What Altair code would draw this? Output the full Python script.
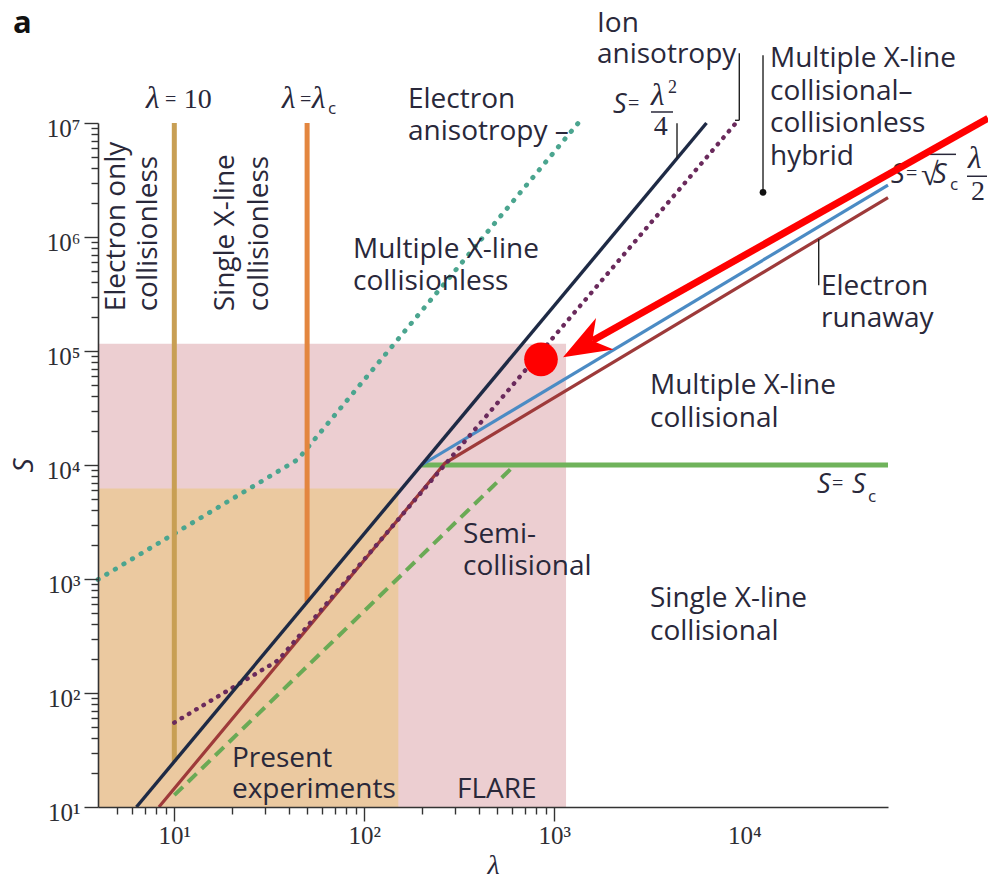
import altair as alt
import pandas as pd

# ---------------------------------------------------------------- ranges
LAM_DOMAIN = [3.966, 57060]
S_DOMAIN = [10, 1.0e7]

# ------------------------------------------------ regime boundaries (λ, S)
lam_quarter = [6.32, 6325]            # S = λ²/4
S_quarter = [10, 1.0e7]
lam_hybrid = [200, 57060]             # S = √Sc λ/2
S_hybrid = [1.0e4, 2.85e6]
lam_sc = [200, 57060]                 # S = Sc
S_sc = [1.0e4, 1.0e4]
lam_semi = [10, 620]                  # semi-collisional boundary
S_semi = [12.7, 1.0e4]
lam_runaway = [8.3, 266, 57060]       # electron runaway
S_runaway = [10, 1.04e4, 2.22e6]
lam_ion = [10, 35.3, 9120]            # ion anisotropy
S_ion = [55, 194, 1.02e7]
lam_elec = [3.966, 44.6, 1337]        # electron anisotropy
S_elec = [990, 1.115e4, 1.0e7]
lam_ten = [10, 10]                    # λ = 10
S_ten = [25, 1.0e7]
lam_lc = [50, 50]                     # λ = λc
S_lc = [625, 1.0e7]

# shaded parameter ranges
box_names = ["FLARE", "Present experiments"]
box_lam_hi = [1153, 151]
box_S_hi = [1.16e5, 6210]
box_colors = ["#ecced1", "#ebc9a0"]

# axis ticks
x_minor = [5, 6, 7, 8, 9, 20, 30, 40, 50, 60, 70, 80, 90,
           200, 300, 400, 500, 600, 700, 800, 900]
x_major = [10, 100, 1000]
x_label_only = [10000]
y_major = [10, 100, 1000, 10000, 100000, 1000000, 10000000]
y_ticks = [m * d for d in y_major[:-1] for m in range(1, 10)] + [y_major[-1]]

# region labels (left aligned, baseline)
region_text = ["Electron", "anisotropy –", "Ion", "anisotropy",
               "Multiple X-line", "collisional–", "collisionless", "hybrid",
               "Electron", "runaway",
               "Multiple X-line", "collisional",
               "Single X-line", "collisional",
               "Multiple X-line", "collisionless",
               "Semi-", "collisional",
               "Present", "experiments", "FLARE"]
region_lam = [169.8, 169.8, 1677, 1677,
              13655, 13655, 13655, 13655,
              25330, 25330,
              3189, 3189,
              3189, 3189,
              87.2, 87.2,
              330.8, 330.8,
              20.1, 20.1, 307.5]
region_S = [1.345e7, 7.05e6, 6.25e7, 3.34e7,
            3.08e7, 1.58e7, 8.28e6, 4.26e6,
            3.08e5, 1.615e5,
            4.17e4, 2.14e4,
            565, 290,
            6.50e5, 3.40e5,
            2056, 1078,
            22.3, 11.9, 11.9]

# vertical labels
vert_text = ["Electron only", "collisionless", "Single X-line", "collisionless"]
vert_lam = [5.502, 8.11, 20.62, 31.13]
vert_S = [2.23e5, 2.23e5, 2.23e5, 2.23e5]

# pieces of the formulas
lam_sym_lam = [7.10, 36.9, 53.0, 3228, 1.504e5]
lam_sym_S = [1.345e7, 1.345e7, 1.345e7, 1.43e7, 4.005e6]
s_sym_lam = [2037, 59180, 98390, 24130, 36880]
s_sym_S = [1.217e7, 2.96e6, 2.96e6, 5646, 5646]
eq_lam = [8.93, 45.9, 2443, 70960, 28940]
eq_S = [1.40e7, 1.40e7, 1.292e7, 3.145e6, 5998]
num_text = ["10", "4", "2"]
num_lam = [11.2, 3336, 1.56e5]
num_S = [1.345e7, 7.80e6, 2.099e6]
sup_text = ["2"]
sup_lam = [3967]
sup_S = [1.822e7]
sub_text = ["c", "c", "c"]
sub_lam = [64.5, 1.209e5, 44780]
sub_S = [1.192e7, 2.568e6, 4708]
root_lam = [85110]
root_S = [2.84e6]

# fraction bars and radical overline
bar_lam = [3228, 1.486e5, 94930]
bar_lam2 = [4214, 1.894e5, 1.301e5]
bar_S = [1.249e7, 3.41e6, 5.31e6]

# leader lines
lead_lam = [9412, 9412, 4424, 12545, 24640]
lead_lam2 = [9412, 8933, 4424, 12545, 24640]
lead_S = [4.087e7, 1.056e7, 9.94e6, 3.93e7, 3.77e5]
lead_S2 = [1.056e7, 1.056e7, 4.9e6, 2.466e6, 9.59e5]
lead_dot_lam = [12545]
lead_dot_S = [2.466e6]

# red highlight: marker and pointer
mark_lam = [851]
mark_S = [8.45e4]
ptr_lam = [1.917e5, 1585]
ptr_S = [1.099e7, 1.229e5]
head_lam = [1432]
head_S = [1.117e5]

# ---------------------------------------------------------------- styling
INK = "#29283a"
SANS = "Open Sans"
SERIF = "Liberation Serif"

XS = alt.Scale(type="log", domain=LAM_DOMAIN, nice=False)
YS = alt.Scale(type="log", domain=S_DOMAIN, nice=False)

x_label_expr = ("datum.value == 10 ? '10¹' : datum.value == 100 ? '10²' : "
                "datum.value == 1000 ? '10³' : datum.value == 10000 ? '10⁴' : ''")
y_label_expr = ("datum.value == 10 ? '10¹' : datum.value == 100 ? '10²' : "
                "datum.value == 1000 ? '10³' : datum.value == 10000 ? '10⁴' : "
                "datum.value == 100000 ? '10⁵' : datum.value == 1000000 ? '10⁶' : "
                "datum.value == 10000000 ? '10⁷' : ''")

XAX = alt.Axis(
    values=sorted(x_minor + x_major + x_label_only),
    labelExpr=x_label_expr,
    tickSize={"condition": {"test": "indexof([10,100,1000,10000], datum.value) >= 0",
                            "value": 14}, "value": 7},
    tickOpacity={"condition": {"test": "datum.value == 10000", "value": 0}, "value": 1},
    title="λ", titleFont=SERIF, titleFontStyle="italic", titleFontWeight="normal",
    titleFontSize=28, titleColor=INK, titlePadding=3,
    labelFont=SERIF, labelFontSize=25, labelColor="#2d2d33", labelPadding=2,
    labelOverlap=False, labelFlush=False, labelBound=False,
    domainColor="#333", domainWidth=1.6, tickColor="#333", tickWidth=1.4, grid=False,
    zindex=1,
)
YAX = alt.Axis(
    values=y_ticks,
    labelExpr=y_label_expr,
    tickSize={"condition": {"test": "indexof([10,100,1000,10000,100000,1000000,10000000], datum.value) >= 0",
                            "value": 14}, "value": 7},
    title="S", titleFont=SANS, titleFontStyle="italic", titleFontWeight="normal",
    titleFontSize=28, titleColor=INK, titlePadding=8,
    labelFont=SERIF, labelFontSize=25, labelColor="#2d2d33", labelPadding=4,
    labelOffset=5, labelOverlap=False, labelFlush=False, labelBound=False,
    domainColor="#333", domainWidth=1.6, tickColor="#333", tickWidth=1.4, grid=False,
    zindex=1,
)

X = alt.X("lam:Q", scale=XS, axis=XAX)
Y = alt.Y("S:Q", scale=YS, axis=YAX)


def curve(lams, ss, color, width, dash=None, cap="butt"):
    df = pd.DataFrame({"lam": lams, "S": ss, "k": list(range(len(lams)))})
    props = dict(color=color, strokeWidth=width, strokeCap=cap, clip=False)
    if dash is not None:
        props["strokeDash"] = dash
    return alt.Chart(df).mark_line(**props).encode(x=X, y=Y, order="k:Q")


def text(texts, lams, ss, **style):
    df = pd.DataFrame({"lam": lams, "S": ss, "txt": texts})
    props = dict(clip=False, color=INK, baseline="alphabetic", align="left")
    props.update(style)
    return alt.Chart(df).mark_text(**props).encode(x=X, y=Y, text="txt:N")


def segments(l1, l2, s1, s2, color, width):
    df = pd.DataFrame({"lam": l1, "lam2": l2, "S": s1, "S2": s2})
    return alt.Chart(df).mark_rule(color=color, strokeWidth=width, clip=False).encode(
        x=X, x2="lam2:Q", y=Y, y2="S2:Q")


boxes = alt.Chart(pd.DataFrame({
    "name": box_names, "lam": [LAM_DOMAIN[0]] * 2, "lam2": box_lam_hi,
    "S": [S_DOMAIN[0]] * 2, "S2": box_S_hi, "c": box_colors,
})).mark_rect().encode(x=X, x2="lam2:Q", y=Y, y2="S2:Q",
                       color=alt.Color("c:N", scale=None))

layers = [
    boxes,
    curve(lam_elec, S_elec, "#4ba58f", 4.8, dash=[0.5, 9.5], cap="round"),
    curve(lam_ten, S_ten, "#c89f54", 5),
    curve(lam_lc, S_lc, "#e3863f", 5),
    curve(lam_semi, S_semi, "#6aaa55", 4, dash=[12, 7]),
    curve(lam_sc, S_sc, "#6fb35b", 5),
    curve(lam_hybrid, S_hybrid, "#4b8bc4", 3.2),
    curve(lam_runaway, S_runaway, "#9e3a3a", 3.2),
    curve(lam_ion, S_ion, "#6a2a5c", 4.4, dash=[0.5, 8], cap="round"),
    curve(lam_quarter, S_quarter, "#1e2a45", 3.4),
    # annotations
    segments(lead_lam, lead_lam2, lead_S, lead_S2, "#222222", 1.4),
    alt.Chart(pd.DataFrame({"lam": lead_dot_lam, "S": lead_dot_S}))
       .mark_circle(size=45, color="#111111", opacity=1, clip=False).encode(x=X, y=Y),
    segments(bar_lam, bar_lam2, bar_S, bar_S, INK, 1.5),
    text(region_text, region_lam, region_S, font=SANS, fontSize=28),
    text(vert_text, vert_lam, vert_S, font=SANS, fontSize=28, angle=270),
    text(["λ"] * len(lam_sym_lam), lam_sym_lam, lam_sym_S, font=SERIF,
         fontStyle="italic", fontSize=31),
    text(["S"] * len(s_sym_lam), s_sym_lam, s_sym_S, font=SANS,
         fontStyle="italic", fontSize=27),
    text(["="] * len(eq_lam), eq_lam, eq_S, font=SERIF, fontSize=20),
    text(num_text, num_lam, num_S, font=SERIF, fontSize=28),
    text(sup_text, sup_lam, sup_S, font=SERIF, fontSize=18),
    text(sub_text, sub_lam, sub_S, font=SANS, fontSize=17),
    text(["√"], root_lam, root_S, font=SERIF, fontSize=32),
    text(["a"], [1.416], [6.12e7], font=SANS, fontSize=31, fontWeight="bold",
         color="#111111"),
    # red highlight
    curve(ptr_lam, ptr_S, "#ff0000", 7),
    alt.Chart(pd.DataFrame({"lam": head_lam, "S": head_S}))
       .mark_point(shape="M1,0L-1,-0.75L-0.4,0L-1,0.75Z", filled=True, size=2304,
                   angle=150.65, color="#ff0000", opacity=1, strokeWidth=0, clip=False)
       .encode(x=X, y=Y),
    alt.Chart(pd.DataFrame({"lam": mark_lam, "S": mark_S}))
       .mark_circle(size=1134, color="#ff0000", opacity=1, clip=False).encode(x=X, y=Y),
]

chart = alt.layer(*layers).properties(
    width=790, height=684,
    padding={"left": 98, "top": 123, "right": 100, "bottom": 78},
    autosize=alt.AutoSizeParams(type="none"),
    background="white",
).configure_view(stroke=None)

chart.save("out.html", embed_options={"renderer": "svg", "actions": False})
